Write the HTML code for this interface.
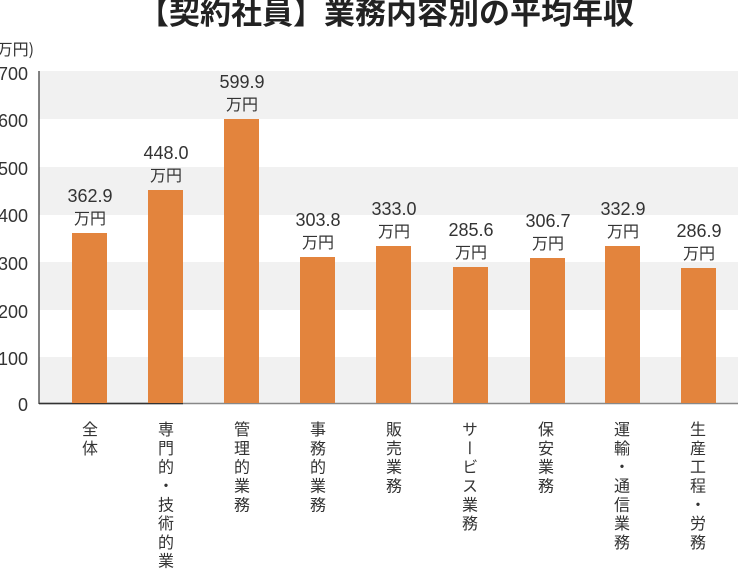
<!DOCTYPE html>
<html style="overflow:hidden;width:738px;height:572px"><head><meta charset="utf-8"><style>
body{margin:0;width:738px;height:572px;overflow:hidden;background:#fff;font-family:"Liberation Sans","Noto Sans CJK JP",sans-serif;position:relative}
.v{position:absolute;top:421px;writing-mode:vertical-rl;white-space:nowrap;height:152px;overflow:hidden;font-size:16px;line-height:18px;letter-spacing:2.8px;color:#333;transform:translateX(-50%);font-family:"Noto Sans CJK JP",sans-serif}
</style></head><body>
<svg width="738" height="572" style="position:absolute;left:0;top:0" font-family="Liberation Sans, Noto Sans CJK JP, sans-serif">
<text x="386" y="24" text-anchor="middle" font-size="31" font-weight="bold" fill="#222" font-family="Noto Sans CJK JP, sans-serif">【契約社員】業務内容別の平均年収</text>
<text x="34" y="55" text-anchor="end" font-size="16" fill="#333" font-family="Noto Sans CJK JP, sans-serif">(万円)</text>
<g fill="#f1f1f1">
<rect x="39" y="71" width="699" height="48"/>
<rect x="39" y="167" width="699" height="48"/>
<rect x="39" y="262" width="699" height="48"/>
<rect x="39" y="357" width="699" height="47"/>
</g>
<g font-size="18" fill="#333" text-anchor="end">
<text x="28" y="80">700</text><text x="28" y="127">600</text><text x="28" y="175">500</text>
<text x="28" y="222">400</text><text x="28" y="270">300</text><text x="28" y="318">200</text>
<text x="28" y="365">100</text><text x="28" y="411">0</text>
</g>
<line x1="39" y1="71" x2="39" y2="404" stroke="#333" stroke-width="1.2"/>
<line x1="39" y1="403.5" x2="738" y2="403.5" stroke="#888" stroke-width="1.5"/>
<line x1="39" y1="403.5" x2="183" y2="403.5" stroke="#333" stroke-width="1.5"/>
<g fill="#e3843d">
<rect x="72" y="233" width="35" height="170"/>
<rect x="148" y="190" width="35" height="213"/>
<rect x="224" y="119" width="35" height="284"/>
<rect x="300" y="257" width="35" height="146"/>
<rect x="376" y="246" width="35" height="157"/>
<rect x="453" y="267" width="35" height="136"/>
<rect x="530" y="258" width="35" height="145"/>
<rect x="605" y="246" width="35" height="157"/>
<rect x="681" y="268" width="35" height="135"/>
</g>
<g font-size="18" fill="#333" text-anchor="middle">
<text x="90" y="202">362.9</text><text x="166" y="159">448.0</text><text x="242" y="88">599.9</text>
<text x="318" y="226">303.8</text><text x="394" y="215">333.0</text><text x="471" y="236">285.6</text>
<text x="548" y="227">306.7</text><text x="623" y="215">332.9</text><text x="699" y="237">286.9</text>
</g>
<g font-size="16" fill="#333" text-anchor="middle" font-family="Noto Sans CJK JP, sans-serif">
<text x="90" y="224">万円</text><text x="166" y="181">万円</text><text x="242" y="110">万円</text>
<text x="318" y="248">万円</text><text x="394" y="237">万円</text><text x="471" y="258">万円</text>
<text x="548" y="249">万円</text><text x="623" y="237">万円</text><text x="699" y="259">万円</text>
</g>
</svg>
<div class="v" style="left:90px">全体</div>
<div class="v" style="left:166px">専門的・技術的業務</div>
<div class="v" style="left:242px">管理的業務</div>
<div class="v" style="left:318px">事務的業務</div>
<div class="v" style="left:394px">販売業務</div>
<div class="v" style="left:470px">サービス業務</div>
<div class="v" style="left:546px">保安業務</div>
<div class="v" style="left:622px">運輸・通信業務</div>
<div class="v" style="left:698px">生産工程・労務</div>
</body></html>
